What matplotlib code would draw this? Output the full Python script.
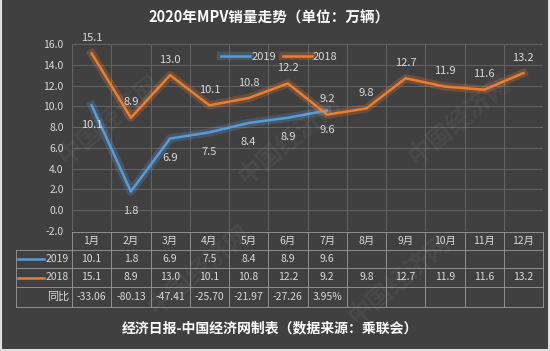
import matplotlib
matplotlib.use("Agg")
import matplotlib.pyplot as plt
import matplotlib.patheffects as pe

plt.rcParams['font.family'] = ['Noto Sans CJK SC', 'DejaVu Sans']

months = ['1月', '2月', '3月', '4月', '5月', '6月', '7月', '8月', '9月', '10月', '11月', '12月']
s2019 = [10.1, 1.8, 6.9, 7.5, 8.4, 8.9, 9.6]
s2018 = [15.1, 8.9, 13.0, 10.1, 10.8, 12.2, 9.2, 9.8, 12.7, 11.9, 11.6, 13.2]
yoy = ['-33.06', '-80.13', '-47.41', '-25.70', '-21.97', '-27.26', '3.95%']
yticks = [-2, 0, 2, 4, 6, 8, 10, 12, 14, 16]

BG = '#404040'
GRID = '#6a6a6a'
TXT = '#d9d9d9'
BLUE = '#5b9bd5'
ORANGE = '#ed7d31'

W, H = 550, 351
fig = plt.figure(figsize=(5.5, 3.51), dpi=100, facecolor=BG)

# plot area in pixels
L, R, T, B = 72, 543, 44, 231
ax = fig.add_axes([L / W, 1 - B / H, (R - L) / W, (B - T) / H])
ax.set_facecolor('none')
ax.set_xlim(-0.5, 11.5)
ax.set_ylim(-2, 16)
for s in ax.spines.values():
    s.set_visible(False)
ax.set_yticks(yticks)
ax.set_yticklabels(['%.1f' % v for v in yticks], color=TXT, fontsize=7.5)
ax.tick_params(axis='y', length=0, pad=6)
ax.set_xticks([])
for v in yticks:
    ax.axhline(v, color=GRID, lw=0.6, zorder=0)
for i in range(13):
    ax.axvline(i - 0.5, color=GRID, lw=0.6, zorder=0)

glow_b = [pe.Stroke(linewidth=6, foreground=BLUE, alpha=0.25), pe.Normal()]
glow_o = [pe.Stroke(linewidth=6, foreground=ORANGE, alpha=0.25), pe.Normal()]
x19 = list(range(len(s2019)))
x18 = list(range(len(s2018)))
ax.plot(x19, s2019, color=BLUE, lw=1.8, path_effects=glow_b, label='2019', zorder=3)
ax.plot(x18, s2018, color=ORANGE, lw=1.8, path_effects=glow_o, label='2018', zorder=3)

for x, v in zip(x19, s2019):
    ax.annotate('%.1f' % v, (x, v), xytext=(0, -14), textcoords='offset points',
                ha='center', va='center', color=TXT, fontsize=8, zorder=5)
for x, v in zip(x18, s2018):
    ax.annotate('%.1f' % v, (x, v), xytext=(0, 11), textcoords='offset points',
                ha='center', va='center', color=TXT, fontsize=8, zorder=5)

leg = ax.legend(loc='upper center', bbox_to_anchor=(0.44, 1.01), ncol=2, frameon=False,
                fontsize=8, handlelength=2.6, columnspacing=0.6, handletextpad=0.1)
for t in leg.get_texts():
    t.set_color(TXT)

# title and footer
fig.text(0.49, 1 - 18 / H, '2020年MPV销量走势（单位：万辆）', ha='center', va='center',
         color='white', fontsize=10.5, fontweight='bold')
fig.text(0.49, 1 - 328 / H, '经济日报-中国经济网制表（数据来源：乘联会）', ha='center', va='center',
         color='white', fontsize=10, fontweight='bold')

# data table in pixel coordinates
tab = fig.add_axes([0, 0, 1, 1], facecolor='none')
tab.set_xlim(0, W)
tab.set_ylim(H, 0)
tab.axis('off')
cw = (R - L) / 12
rows = [232, 250, 268, 287, 307]
HL = 16
lc = '#9a9a9a'
tab.plot([L, R], [rows[0], rows[0]], color=lc, lw=0.6)
for y in rows[1:]:
    tab.plot([HL, R], [y, y], color=lc, lw=0.6)
tab.plot([HL, HL], [rows[1], rows[4]], color=lc, lw=0.6)
for i in range(13):
    tab.plot([L + i * cw, L + i * cw], [rows[0], rows[4]], color=lc, lw=0.6)

def cy(r):
    return (rows[r] + rows[r + 1]) / 2

for i, m in enumerate(months):
    tab.text(L + (i + 0.5) * cw, cy(0), m, ha='center', va='center', color=TXT, fontsize=7.5)
for i, v in enumerate(s2019):
    tab.text(L + (i + 0.5) * cw, cy(1), '%.1f' % v, ha='center', va='center', color=TXT, fontsize=7.5)
for i, v in enumerate(s2018):
    tab.text(L + (i + 0.5) * cw, cy(2), '%.1f' % v, ha='center', va='center', color=TXT, fontsize=7.5)
for i, v in enumerate(yoy):
    tab.text(L + (i + 0.5) * cw, cy(3), v, ha='center', va='center', color=TXT, fontsize=7.5)

tab.plot([18, 44], [cy(1), cy(1)], color=BLUE, lw=1.8)
tab.plot([18, 44], [cy(2), cy(2)], color=ORANGE, lw=1.8)
tab.text(L - 3, cy(1), '2019', ha='right', va='center', color=TXT, fontsize=7.5)
tab.text(L - 3, cy(2), '2018', ha='right', va='center', color=TXT, fontsize=7.5)
tab.text(L - 3, cy(3), '同比', ha='right', va='center', color=TXT, fontsize=8)

# faint watermarks, kept inside the picture
for (x, y) in [(110, 120), (290, 140), (460, 120), (200, 270), (400, 280)]:
    tab.text(x, y, '中国经济网', rotation=40, ha='center', va='center',
             color='white', alpha=0.05, fontsize=18, fontweight='bold', zorder=0)

# light border on left, right and bottom
tab.plot([1, 1, W - 1.5, W - 1.5], [0, H - 1.5, H - 1.5, 0], color='#e0e0e0', lw=1.5,
         clip_on=False)

fig.savefig('out.png', dpi=100, facecolor=BG)
